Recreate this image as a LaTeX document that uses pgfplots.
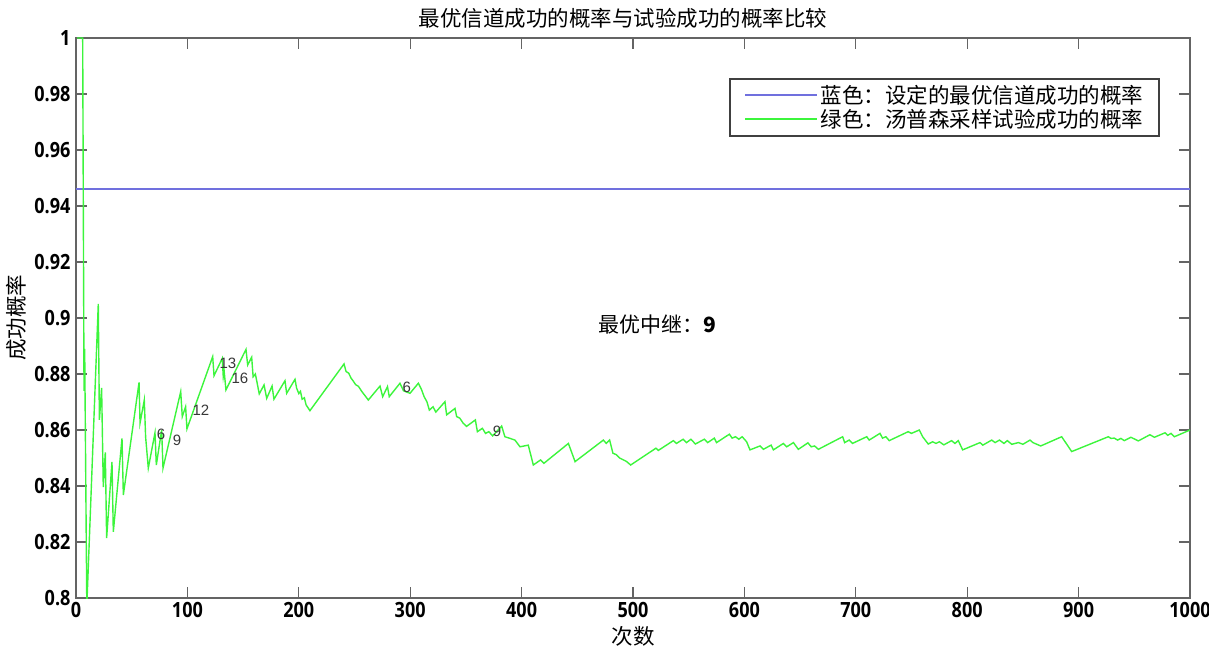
\documentclass[border=0pt]{standalone}
\usepackage{fontspec}
\usepackage{pgfplots}
\pgfplotsset{compat=1.18}
\setmainfont{Noto Sans CJK SC}
\newfontfamily\tickfont{Open Sans}[FakeStretch=0.86]
\newfontfamily\annfont{Liberation Sans}
\definecolor{lblue}{RGB}{112,112,222}
\definecolor{lgreen}{RGB}{60,245,60}
\definecolor{framegray}{RGB}{100,100,100}
\definecolor{annot}{RGB}{55,55,55}
\begin{document}
\begin{tikzpicture}
\begin{axis}[
  name=ax,
  scale only axis,
  width=1114pt, height=560pt,
  xmin=0, xmax=1000, ymin=0.8, ymax=1,
  xtick={0,100,...,1000},
  ytick={0.8,0.82,0.84,0.86,0.88,0.9,0.92,0.94,0.96,0.98,1},
  yticklabels={0.8,0.82,0.84,0.86,0.88,0.9,0.92,0.94,0.96,0.98,1},
  scaled ticks=false,
  /pgf/number format/1000 sep={},
  /pgf/number format/assume math mode=true,
  tick label style={font=\tickfont\bfseries\fontsize{21}{24}\selectfont, text=black},
  xticklabel style={yshift=-1pt},
  yticklabel style={xshift=-2pt},
  tick align=inside,
  major tick length=11pt,
  every tick/.style={framegray, line width=1.3pt},
  axis line style={framegray, line width=1.6pt},
  legend style={at={(rel axis cs:0.973,0.929)}, anchor=north east,
    draw=black!75, line width=1.8pt, fill=white,
    font=\fontsize{21.5}{24}\selectfont,
    inner xsep=14pt, inner ysep=5pt, row sep=0pt,
    /tikz/every even column/.append style={column sep=6pt}},
  legend cell align=left,
  legend image code/.code={\draw[#1] (0pt,0.4pt) -- (72pt,0.4pt);},
]
\addlegendimage{draw=lblue, line width=2.2pt}
\addlegendentry{蓝色：设定的最优信道成功的概率}
\addlegendimage{draw=lgreen, line width=1.8pt}
\addlegendentry{绿色：汤普森采样试验成功的概率}
\addplot[lblue, line width=1.5pt, forget plot] coordinates {(0,0.946) (1000,0.946)};
\addplot[lgreen, line width=1.4pt, forget plot] coordinates {
(1,1) (6,1) (7.2,0.874) (7.8,0.889) (9.7,0.797)
(20,0.905) (21,0.8636) (23,0.875) (24.5,0.8396) (26.3,0.852) (27.5,0.8214)
(32.3,0.8486) (33.5,0.8236) (41.3,0.857) (42.5,0.8368) (56.6,0.877) (57.5,0.8625)
(61.3,0.8707) (62.5,0.8575) (64.9,0.8464) (70.9,0.859) (72.1,0.8475) (76.9,0.860)
(78.1,0.8464) (94,0.8737) (95.4,0.8648) (98.4,0.8683) (99.6,0.8604) (122.7,0.8862)
(123.9,0.8794) (131.3,0.8856) (132.2,0.879) (133,0.881) (134.6,0.8743) (152.6,0.8888)
(154.1,0.8832) (157.7,0.886) (159,0.879) (161,0.880) (162.5,0.877) (164.5,0.8729)
(168.8,0.8761) (171.2,0.8713) (176,0.8757) (177.7,0.871) (187.6,0.8776) (189.1,0.8731)
(196.6,0.8781) (198,0.875) (200,0.873) (201.5,0.8738) (203,0.871) (205,0.8715)
(206.5,0.869) (210,0.8669) (240.6,0.8836) (242.4,0.8809) (244.8,0.8803) (246.8,0.8786)
(249,0.8774) (251,0.8762) (253.5,0.8756) (256.5,0.8738) (262.4,0.8707) (272.9,0.8757)
(275.3,0.8719) (279.6,0.8755) (281.2,0.8719) (290.8,0.8767) (294,0.8740) (299.8,0.8731)
(307.3,0.8767) (310,0.8746) (312.5,0.8719) (315,0.8701) (317.2,0.8671) (320.5,0.8683)
(323,0.8664) (331.2,0.8701) (332.7,0.8654) (340.2,0.8677) (341.7,0.8648) (344.6,0.8642)
(347.6,0.8624) (350.6,0.8613) (358.5,0.8636) (360.3,0.8594) (364.8,0.8606) (367.6,0.8588)
(370.6,0.8594) (374,0.8579) (382.1,0.8614) (385,0.8576) (389.6,0.8570) (394,0.8564)
(398.6,0.8540) (406,0.8546) (410.5,0.8475) (417,0.8493) (420,0.8481) (442,0.8552)
(444.5,0.8525) (448,0.8487) (473.4,0.8564) (476,0.8552) (479,0.8564) (482,0.8517)
(485,0.8512) (488,0.8500) (491,0.8494) (494,0.8488) (497.9,0.8475) (520.6,0.8535)
(522.7,0.8527) (536.2,0.8562) (539,0.8552) (545,0.8567) (548,0.8555) (552,0.8567)
(556,0.8550) (564,0.8567) (567,0.8555) (573,0.8571) (575,0.8555) (586.5,0.8585)
(589,0.8571) (592,0.8576) (595,0.8567) (598,0.8576) (602,0.8558) (605,0.8529)
(614,0.8543) (617,0.8531) (624,0.8546) (626,0.8529) (635,0.8552) (638,0.8540)
(644,0.8555) (648.4,0.8531) (657,0.8554) (660,0.8540) (663,0.8543) (666.4,0.8531)
(688.2,0.8576) (690,0.8555) (694,0.8564) (697,0.8552) (709.8,0.8576) (712,0.8564)
(721.7,0.8588) (724,0.8571) (727,0.8576) (730,0.8562) (747,0.8594) (750,0.8588)
(757,0.860) (760,0.8576) (765,0.855) (769,0.8558) (772,0.8552) (775,0.8558)
(779,0.8547) (786,0.8562) (789,0.8552) (792,0.8562) (795.9,0.8529) (811.5,0.8555)
(814,0.8546) (822,0.8564) (825,0.8555) (829,0.8564) (833,0.8552) (836,0.8562)
(840,0.8549) (846,0.8555) (850,0.8549) (856.4,0.8564) (859,0.8555) (866,0.8543)
(884.8,0.8576) (893.8,0.8523) (926.7,0.8576) (929,0.857) (932,0.8571) (935,0.8564)
(938,0.8570) (941,0.8562) (947,0.8574) (953.6,0.8561) (964,0.8583) (968,0.8574)
(977.6,0.859) (980,0.8581) (983,0.8588) (986,0.8576) (1000,0.860)
};
\begin{scope}[every node/.style={font=\annfont\fontsize{15}{17}\selectfont, text=annot, inner sep=0pt}]
\node at (axis cs:76.3,0.8586) {6};
\node at (axis cs:90.7,0.8564) {9};
\node at (axis cs:112.2,0.8671) {12};
\node at (axis cs:136.4,0.8839) {13};
\node at (axis cs:147.2,0.8786) {16};
\node at (axis cs:297,0.8754) {6};
\node at (axis cs:378,0.8596) {9};
\end{scope}
\node[font=\fontsize{21}{24}\selectfont, text=black, inner sep=0pt] at (axis cs:521.5,0.8975) {最优中继：\textbf{9}};
\end{axis}
\node[font=\fontsize{21.5}{24}\selectfont] at ([yshift=-38pt]ax.south) {次数};
\node[font=\fontsize{21.5}{24}\selectfont, rotate=90] at ([xshift=-60pt]ax.west) {成功概率};
\node[font=\fontsize{21.5}{24}\selectfont] at ([xshift=-10pt,yshift=20pt]ax.north) {最优信道成功的概率与试验成功的概率比较};
\pgfresetboundingbox
\path[use as bounding box] ([shift={(-76pt,-50pt)}]ax.south west) rectangle ([shift={(19pt,38pt)}]ax.north east);
\end{tikzpicture}
\end{document}
